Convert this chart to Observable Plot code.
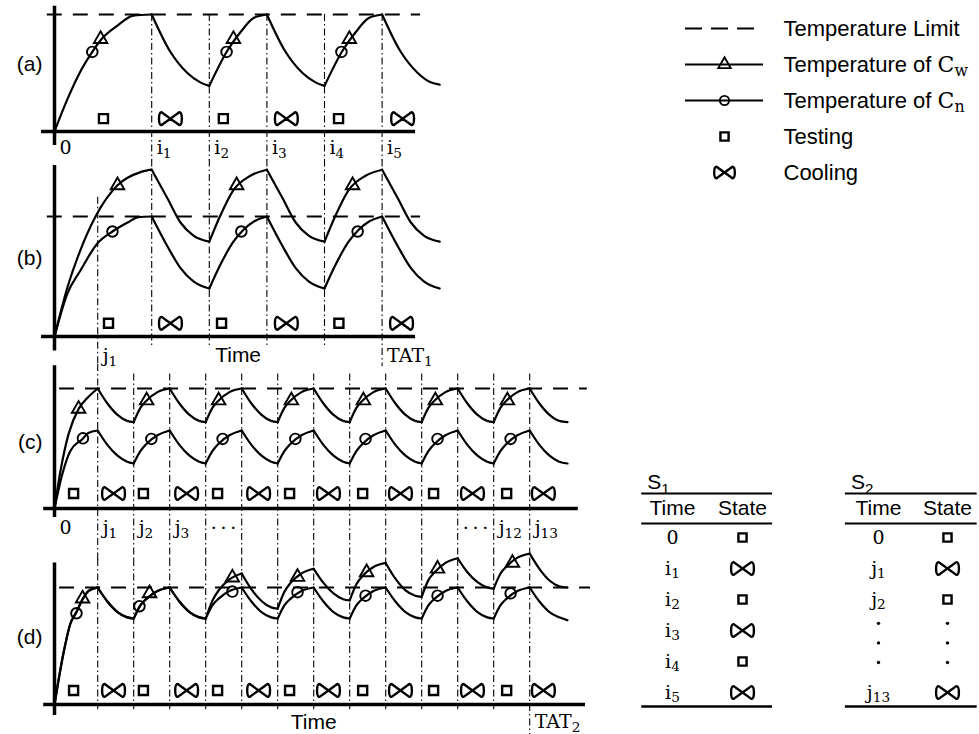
<!DOCTYPE html>
<html><head><meta charset="utf-8">
<script src="https://cdn.jsdelivr.net/npm/d3@7"></script>
<script src="https://cdn.jsdelivr.net/npm/@observablehq/plot@0.6"></script>
<style>
body{margin:0;background:#fff;}
#fig{position:relative;width:979px;height:734px;background:#fff;overflow:hidden;}
#fig svg{position:absolute;overflow:visible;background:transparent;}
</style></head><body><div id="fig"></div>
<script>
const SANS = "'Liberation Sans', Arial, sans-serif";
const SERIF = "'DejaVu Serif', serif";

// ---------------- data ----------------
const LIMIT = 100;
const iTimes = [27, 43, 59, 75, 91];
const jTimes = [12, 22, 32, 42, 52, 62, 72, 82, 92, 102, 112, 122, 132];

// panel (a): Cw and Cn coincide
const aCurve = [[0,0],[3.5,27],[6.8,49],[10.5,68],[12.8,78],[17.5,90.5],[21.9,99],[27,100],
  [32,69],[36.9,50],[40.5,42],[43,39],
  [48,69],[51.7,85],[55.3,97],[59,100],
  [64,69],[68.9,50],[72.5,42],[75,39],
  [80,69],[83.7,85],[87.3,97],[91,100],
  [96,69],[100.9,50],[104.5,42],[107,40]];
const aTri = [[12.8,79],[49.7,79],[81.9,79]];
const aCir = [[10.5,68],[47.8,68],[79.7,68]];
const aTest = [13.6, 46.9, 78.9];
const aCool = [32.2, 64.4, 96.7];
const aTicks = [0, 27, 43, 59, 75, 91];
const aTickLabels = ["0", "i_1", "i_2", "i_3", "i_4", "i_5"];

// panel (b)
const bCw = [[0,0],[3.6,41],[7.2,72],[11.4,100],[17.5,126],[23.9,137],[27,139],
  [31.4,115],[35,95],[38.6,84],[43,79],
  [46.1,101],[49.7,122],[54.4,134],[59,139],
  [63.4,115],[67,95],[70.6,84],[75,79],
  [78.1,101],[81.7,122],[86.4,134],[91,139],
  [95.4,115],[99,95],[102.6,84],[107,79]];
const bCn = [[0,0],[3.6,36],[7.2,55],[11.9,77.5],[16.1,87.5],[20.3,95],[23.3,99.5],[27,100],
  [31.4,75],[35,57],[38.6,46],[43,40],
  [46.1,60],[49.7,79],[52.5,89],[55.5,96],[59,100],
  [63.4,75],[67,57],[70.6,46],[75,40],
  [78.1,60],[81.7,79],[84.5,89],[87.5,96],[91,100],
  [95.4,75],[99,57],[102.6,46],[107,40]];
const bTri = [[17.5,126],[50.6,126],[82.8,126]];
const bCir = [[16.1,87.5],[51.9,87.5],[84.2,87.5]];
const bTest = [15, 46.4, 79];
const bCool = [32.2, 64.4, 96.4];
const bTicks = [12, 91];
const bTickLabels = ["j_1", "TAT_1"];
const bTimeAt = 51;

// panel (c)
const cCw = [[0,0],[1.7,32],[3.9,62],[6.7,83],[9.1,92],[12,100],
  [14.7,87.5],[17.5,78],[20.2,73],[22,72],[23.9,84],[25.6,90],[28.6,97],[32,100],
  [34.7,87.5],[37.5,78],[40.2,73],[42,72],[43.9,84],[45.6,90],[48.6,97],[52,100],
  [54.7,87.5],[57.5,78],[60.2,73],[62,72],[63.9,84],[65.6,90],[68.6,97],[72,100],
  [74.7,87.5],[77.5,78],[80.2,73],[82,72],[83.9,84],[85.6,90],[88.6,97],[92,100],
  [94.7,87.5],[97.5,78],[100.2,73],[102,72],[103.9,84],[105.6,90],[108.6,97],[112,100],
  [114.7,87.5],[117.5,78],[120.2,73],[122,72],[123.9,84],[125.6,90],[128.6,97],[132,100],
  [134.7,87.5],[137.5,78],[140.2,73],[142.5,72]];
const cCn = [[0,0],[2.2,29],[4.4,48],[7.8,58],[9.4,63],[12,65],
  [14.7,53],[17.5,44],[20.2,39],[22,37.5],[23.9,48],[25.6,54],[28.6,61],[32,65],
  [34.7,53],[37.5,44],[40.2,39],[42,37.5],[43.9,48],[45.6,54],[48.6,61],[52,65],
  [54.7,53],[57.5,44],[60.2,39],[62,37.5],[63.9,48],[65.6,54],[68.6,61],[72,65],
  [74.7,53],[77.5,44],[80.2,39],[82,37.5],[83.9,48],[85.6,54],[88.6,61],[92,65],
  [94.7,53],[97.5,44],[100.2,39],[102,37.5],[103.9,48],[105.6,54],[108.6,61],[112,65],
  [114.7,53],[117.5,44],[120.2,39],[122,37.5],[123.9,48],[125.6,54],[128.6,61],[132,65],
  [134.7,53],[137.5,44],[140.2,39],[142.5,37.5]];
const cTri = [[6.7,83],[25.6,90],[45.6,90],[65.8,90],[85.8,90],[105.8,90],[125.8,90]];
const cCir = [[7.9,58.5],[26.9,58],[46.7,58],[66.9,58],[86.4,58],[106.4,58],[126.7,58]];
const cTest = [5.3, 24.7, 45.3, 65.3, 85.6, 105.3, 125.6];
const cCool = [16.4, 36.7, 56.7, 76.1, 96.1, 116.1, 135.8];
const cTicks = [0, 12, 22, 32, 42, 112, 122, 132];
const cTickLabels = ["0", "j_1", "j_2", "j_3", "\u00B7\u2009\u00B7\u2009\u00B7", "\u00B7\u2009\u00B7\u2009\u00B7", "j_12", "j_13"];

// panel (d)
const dCw = [[0,0],[2.5,44],[4.4,69],[6.1,79],[7.8,90],[9.4,97],[12,100],
  [14.7,88],[17.5,79],[20.2,74.5],[22,73.5],[23.9,85],[25.6,90.5],[28.6,97],[32,100],
  [34.7,88],[37.5,79],[40.2,74.5],[42,73.5],[43.9,89],[45.6,97.5],[48.6,107],[52,112],
  [54.7,98.5],[57.5,88.5],[60.2,83],[62,82],[63.9,96.5],[65.6,104],[68.6,112],[72,116],
  [74.7,104],[77.5,95],[80.2,90],[82,89],[83.9,103],[85.6,110],[88.6,117.5],[92,121],
  [94.7,107.5],[97.5,97.5],[100.2,93],[102,92],[103.9,106.5],[105.6,113],[108.6,121],[112,125],
  [114.7,113],[117.5,104.5],[120.2,100],[122,99],[123.9,112],[125.6,118],[128.6,125.5],[132,129],
  [134.7,116],[137.5,106],[140.2,101],[142.5,100]];
const dCn = [[0,0],[2.5,44],[4.4,69],[6.1,79],[7.8,90],[9.4,97],[12,100],
  [14.7,88],[17.5,79],[20.2,74.5],[22,73.5],[23.9,85],[25.6,90.5],[28.6,97],[32,100],
  [34.7,88],[37.5,79],[40.2,74.5],[42,73.5],[43.9,85],[45.6,90.5],[48.6,97],[52,100],
  [54.7,88],[57.5,79],[60.2,74.5],[62,73.5],[63.9,85],[65.6,90.5],[68.6,97],[72,100],
  [74.7,88],[77.5,79],[80.2,74.5],[82,73.5],[83.9,85],[85.6,90.5],[88.6,97],[92,100],
  [94.7,88],[97.5,79],[100.2,74.5],[102,73.5],[103.9,85],[105.6,90.5],[108.6,97],[112,100],
  [114.7,88],[117.5,79],[120.2,74.5],[122,73.5],[123.9,85],[125.6,90.5],[128.6,97],[132,100],
  [134.7,88],[137.5,79],[140.2,74.5],[142.5,72]];
const dTri = [[7.8,90.5],[26.4,95],[49.4,108.5],[67.5,109],[86.7,113],[106.4,116],[127.2,121]];
const dCir = [[6.1,78],[23.6,84],[49.4,96.5],[67.5,96],[86.4,93],[106.4,93],[126.7,95]];
const dTest = [5.3, 24.7, 45.3, 65.3, 85.6, 105.3, 125.6];
const dCool = [16.4, 36.7, 56.7, 76.1, 96.1, 116.1, 135.8];
const dTicks = [132];
const dTickLabels = ["TAT_2"];
const dTimeAt = 72;

// legend
const legendLabels = ["Temperature Limit", "Temperature of |C_w", "Temperature of |C_n", "Testing", "Cooling"];

// tables
const s1Time = ["0", "i_1", "i_2", "i_3", "i_4", "i_5"];
const s1State = ["Testing", "Cooling", "Testing", "Cooling", "Testing", "Cooling"];
const s1Row = [0, 1, 2, 3, 4, 5];
const s2Time = ["0", "j_1", "j_2", "j_13"];
const s2State = ["Testing", "Cooling", "Testing", "Cooling"];
const s2Row = [0, 1, 2, 5];
const s2Ellipsis = [2.77, 3.4, 4.03];
const headers = ["Time", "State"];

// ---------------- helpers ----------------
const bowtie = {
  draw(ctx, size) {
    const k = Math.sqrt(size / Math.PI) / 6;
    const w = 11 * k, h = 6.2 * k;
    for (const s of [-1, 1]) {
      ctx.moveTo(0, 0);
      ctx.lineTo(s * 0.78 * w, -h);
      ctx.bezierCurveTo(s * 1.08 * w, -h, s * 1.08 * w, h, s * 0.78 * w, h);
      ctx.closePath();
    }
  }
};

function segs(pts, breaks) {
  const out = []; let seg = 0;
  pts.forEach(([t, v], k) => {
    out.push({t, v, seg});
    if (k > 0 && k < pts.length - 1 && breaks.includes(t)) { seg++; out.push({t, v, seg}); }
  });
  return out;
}
const DASHDOT = "7,3,1.5,3";
function vlines(times, y1, y2) {
  return Plot.ruleX(times, {y1, y2, stroke: "black", strokeWidth: 1.1, strokeDasharray: DASHDOT});
}
function base(limitX, axX, axY) {
  return [
    Plot.ruleY([LIMIT], {x1: limitX[0], x2: limitX[1], stroke: "black", strokeWidth: 2.2, strokeDasharray: "15,11"}),
    Plot.ruleY([0], {x1: axX[0], x2: axX[1], stroke: "black", strokeWidth: 3.5}),
    Plot.ruleX([0], {y1: axY[0], y2: axY[1], stroke: "black", strokeWidth: 3.5})
  ];
}
function curve(pts, breaks) {
  return Plot.line(segs(pts, breaks), {x: "t", y: "v", z: "seg", curve: "monotone-x", stroke: "black", strokeWidth: 2.2});
}
function markers(tri, cir) {
  return [
    Plot.dot(tri, {x: d => d[0], y: d => d[1], symbol: "triangle", r: 5, fill: "none", stroke: "black", strokeWidth: 1.9}),
    Plot.dot(cir, {x: d => d[0], y: d => d[1], symbol: "circle", r: 5.3, fill: "none", stroke: "black", strokeWidth: 1.9})
  ];
}
function states(test, cool, level) {
  return [
    Plot.dot(test, {x: d => d, y: level, symbol: "square", r: 5.1, fill: "none", stroke: "black", strokeWidth: 2.4}),
    Plot.dot(cool, {x: d => d, y: level, symbol: bowtie, r: 6.2, fill: "none", stroke: "black", strokeWidth: 2.4})
  ];
}
function ticks(values, labels, pad) {
  const m = new Map(values.map((v, i) => [v, labels[i]]));
  return Plot.axisX(values, {anchor: "bottom", tickSize: 0, tickPadding: pad, tickFormat: d => m.get(d),
    textAnchor: "start", dx: 5, fontSize: 19, fontFamily: SERIF, label: null});
}
function timeLabel(t, pad) {
  return Plot.axisX([t], {anchor: "bottom", tickSize: 0, tickPadding: pad, tickFormat: () => "Time",
    textAnchor: "middle", fontSize: 21, fontFamily: SANS, label: null});
}
function panelLabel(s, dy) {
  return Plot.text([s], {frameAnchor: "left", textAnchor: "end", dx: -12, dy, fontSize: 21, fontFamily: SANS});
}
function rich(svg) {
  svg.querySelectorAll("text").forEach(el => {
    const s = el.textContent;
    if (!s.includes("_") && !s.includes("|")) return;
    const serif = s.includes("|");
    const [pre, post] = serif ? s.split("|") : ["", s];
    const [b, sub] = post.split("_");
    el.textContent = "";
    const add = (txt, attrs) => {
      const t = document.createElementNS("http://www.w3.org/2000/svg", "tspan");
      t.textContent = txt;
      for (const k in attrs) t.setAttribute(k, attrs[k]);
      el.appendChild(t);
    };
    if (pre) add(pre, {});
    add(b, serif ? {"font-family": SERIF} : {});
    if (sub !== undefined) add(sub, Object.assign({"font-size": "0.72em", "dy": "0.28em"}, serif ? {"font-family": SERIF} : {}));
  });
}
const fig = document.getElementById("fig");
function place(svg, left, top) {
  svg.style.left = left + "px"; svg.style.top = top + "px";
  rich(svg);
  fig.appendChild(svg);
}
function panel(top, height, mt, mb, marks) {
  const svg = Plot.plot({
    width: 600, height, marginLeft: 54, marginRight: 42, marginTop: mt, marginBottom: mb,
    x: {domain: [0, 140]}, y: {domain: [0, 100], axis: null},
    style: {background: "transparent", overflow: "visible"},
    marks
  });
  place(svg, 0, top);
}

// ---------------- panels ----------------
panel(0, 160, 14, 29, [
  vlines(iTimes, 100, -25),
  ...base([-2, 101.7], [-3.6, 100.3], [-12, 107]),
  curve(aCurve, iTimes),
  ...markers(aTri, aCir),
  ...states(aTest, aCool, 11),
  ticks(aTicks, aTickLabels, 9),
  panelLabel("(a)", -8.5)
]);

panel(160, 205, 56, 29, [
  vlines(iTimes.slice(0, 4), 147, -7.5),
  vlines([iTimes[4]], 147, -25),
  vlines([jTimes[0]], 116, -25),
  ...base([-2, 101.7], [-3.6, 100.3], [-12, 142.5]),
  curve(bCw, iTimes),
  curve(bCn, iTimes),
  ...markers(bTri, bCir),
  ...states(bTest, bCool, 11),
  ticks(bTicks, bTickLabels, 12),
  timeLabel(bTimeAt, 11),
  panelLabel("(b)", -18)
]);

panel(365, 195, 23, 52, [
  vlines([jTimes[0]], 120, -44),
  vlines(jTimes.slice(1), 112, -44),
  ...base([1.4, 148], [-3, 145.5], [-7.5, 119]),
  curve(cCw, jTimes),
  curve(cCn, jTimes),
  ...markers(cTri, cCir),
  ...states(cTest, cCool, 12.5),
  ticks(cTicks, cTickLabels, 12),
  panelLabel("(c)", -6)
]);

panel(560, 174, 27, 30, [
  vlines(jTimes.slice(0, 12), 124, -4.5),
  vlines([jTimes[12]], 124, -26),
  ...base([1.4, 148.9], [-3, 147.5], [-9.4, 121]),
  curve(dCw, jTimes),
  curve(dCn, jTimes),
  ...markers(dTri, dCir),
  ...states(dTest, dCool, 12),
  ticks(dTicks, dTickLabels, 10),
  timeLabel(dTimeAt, 10),
  panelLabel("(d)", -8.5)
]);

// ---------------- legend ----------------
place(Plot.plot({
  width: 379, height: 200, margin: 0,
  x: {domain: [0, 1], range: [85, 163], axis: null},
  y: {type: "point", domain: legendLabels, range: [28, 172], padding: 0, axis: null},
  style: {background: "transparent", overflow: "visible"},
  marks: [
    Plot.ruleY([legendLabels[0]], {y: d => d, x1: 0, x2: 1, stroke: "black", strokeWidth: 2.2, strokeDasharray: "17,9"}),
    Plot.ruleY(legendLabels.slice(1, 3), {y: d => d, x1: 0, x2: 1, stroke: "black", strokeWidth: 2.2}),
    Plot.dot([legendLabels[1]], {x: 0.5, y: d => d, symbol: "triangle", r: 4.6, fill: "none", stroke: "black", strokeWidth: 1.9}),
    Plot.dot([legendLabels[2]], {x: 0.5, y: d => d, symbol: "circle", r: 4.6, fill: "none", stroke: "black", strokeWidth: 1.9}),
    Plot.dot([legendLabels[3]], {x: 0.5, y: d => d, symbol: "square", r: 4.6, fill: "none", stroke: "black", strokeWidth: 2.4}),
    Plot.dot([legendLabels[4]], {x: 0.5, y: d => d, symbol: bowtie, r: 5.6, fill: "none", stroke: "black", strokeWidth: 2.4}),
    Plot.text(legendLabels, {x: 1, y: d => d, dx: 20, textAnchor: "start", fontSize: 22, fontFamily: SANS})
  ]
}), 600, 0);

// ---------------- tables ----------------
function table(title, times, rows, statesArr, ellipsis, left, width, xr, rx) {
  const testRows = rows.filter((r, i) => statesArr[i] === "Testing");
  const coolRows = rows.filter((r, i) => statesArr[i] === "Cooling");
  const marks = [
    Plot.text([title], {x: rx[2], y: -1.77, textAnchor: "start", fontSize: 21, fontFamily: SANS}),
    Plot.ruleY([-1.42, -0.45], {x1: rx[0], x2: rx[1], stroke: "black", strokeWidth: 2}),
    Plot.ruleY([5.45], {x1: rx[0], x2: rx[1], stroke: "black", strokeWidth: 2.4}),
    Plot.text(headers, {x: (d, i) => i, y: -0.94, fontSize: 21, fontFamily: SANS}),
    Plot.text(times, {x: 0, y: (d, i) => rows[i], fontSize: 19, fontFamily: SERIF}),
    Plot.dot(testRows, {x: 1, y: d => d, symbol: "square", r: 4.6, fill: "none", stroke: "black", strokeWidth: 2.4}),
    Plot.dot(coolRows, {x: 1, y: d => d, symbol: bowtie, r: 6.2, fill: "none", stroke: "black", strokeWidth: 2.4})
  ];
  if (ellipsis.length) {
    marks.push(Plot.dot(ellipsis, {x: 0, y: d => d, r: 1.7, fill: "black", stroke: "none"}));
    marks.push(Plot.dot(ellipsis, {x: 1, y: d => d, r: 1.7, fill: "black", stroke: "none"}));
  }
  place(Plot.plot({
    width, height: 260, margin: 0,
    x: {domain: [0, 1], range: xr, axis: null},
    y: {domain: [0, 5], range: [77, 232], axis: null},
    style: {background: "transparent", overflow: "visible"},
    marks
  }), left, 460);
}
table("S_1", s1Time, s1Row, s1State, [], 630, 160, [42, 112], [-0.44, 1.43, -0.36]);
table("S_2", s2Time, s2Row, s2State, s2Ellipsis, 835, 144, [43, 112], [-0.48, 1.43, -0.4]);
</script></body></html>
